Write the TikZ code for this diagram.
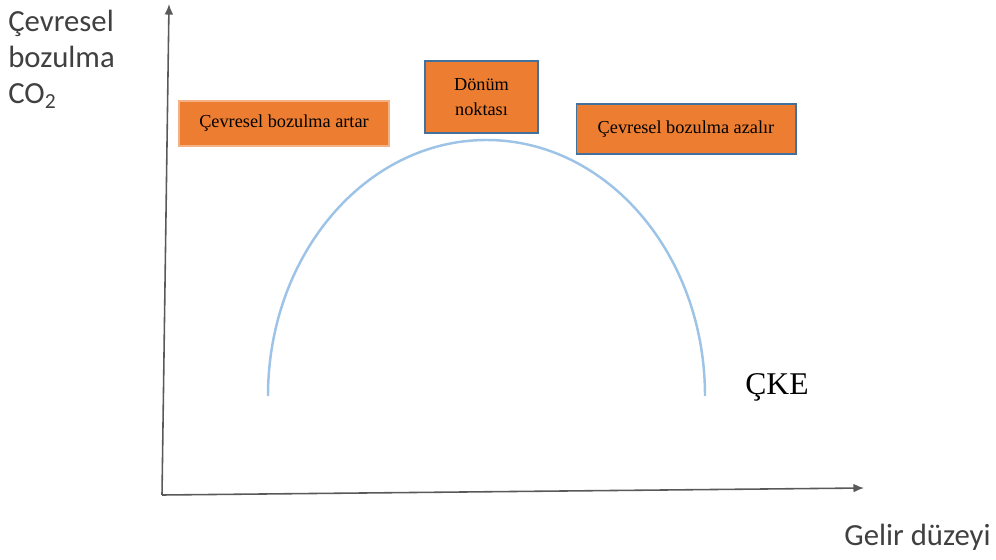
\documentclass[tikz,border=0pt]{standalone}
\usepackage{fontspec}
\setmainfont{Liberation Serif}
\newfontfamily\calibri{Carlito}
\usetikzlibrary{arrows.meta}
\definecolor{boxorange}{HTML}{ED7D31}
\definecolor{boxedge}{HTML}{41719C}
\definecolor{curveblue}{HTML}{9DC3E6}
\definecolor{axisgray}{HTML}{595959}
\definecolor{labelgray}{HTML}{404040}
\tikzset{
  box/.style={fill=boxorange, draw=boxedge, line width=0.6pt, inner sep=0pt,
    font=\fontsize{10.4}{13.5}\selectfont, align=center},
  axis/.style={draw=axisgray, line width=0.9pt, -{Latex[length=6pt,width=5pt]}},
  axislabel/.style={font=\calibri\fontsize{17.5}{20.5}\selectfont, text=labelgray, inner sep=0pt}
}
\begin{document}
\begin{tikzpicture}[x=0.02cm, y=-0.02cm]
  \useasboundingbox (0,0) rectangle (996,560);
  % axes
  \coordinate (origin) at (162,495);
  \coordinate (ytop) at (169,4);
  \coordinate (xend) at (864,488);
  \draw[axis] (origin) -- (ytop);
  \draw[axis] (origin) -- (xend);
  % axis labels
  \node[axislabel, anchor=north west, align=left] (ylabel) at (8,10)
    {Çevresel\\bozulma\\CO\textsubscript{2}};
  \node[axislabel, anchor=north east] (xlabel) at (991,524) {Gelir düzeyi};
  % curve
  \coordinate (cstart) at (268,396);
  \draw[curveblue, line width=1.4pt] (cstart) arc[start angle=180, end angle=360,
    x radius=218.5, y radius=256];
  \node[font=\fontsize{18}{20}\selectfont, anchor=west, inner sep=0pt] (cke) at (745,387) {ÇKE};
  % boxes
  \node[box, minimum width=4.2cm, minimum height=0.9cm, draw=boxorange!60] (artar) at (284,123.5)
    {Çevresel bozulma artar};
  \node[box, minimum width=2.26cm, minimum height=1.44cm, font=\fontsize{10.4}{14}\selectfont] (donum) at (481.5,97)
    {Dönüm\\noktası};
  \node[box, minimum width=4.4cm, minimum height=1cm] (azalir) at (686,129)
    {Çevresel bozulma azalır};
\end{tikzpicture}
\end{document}
